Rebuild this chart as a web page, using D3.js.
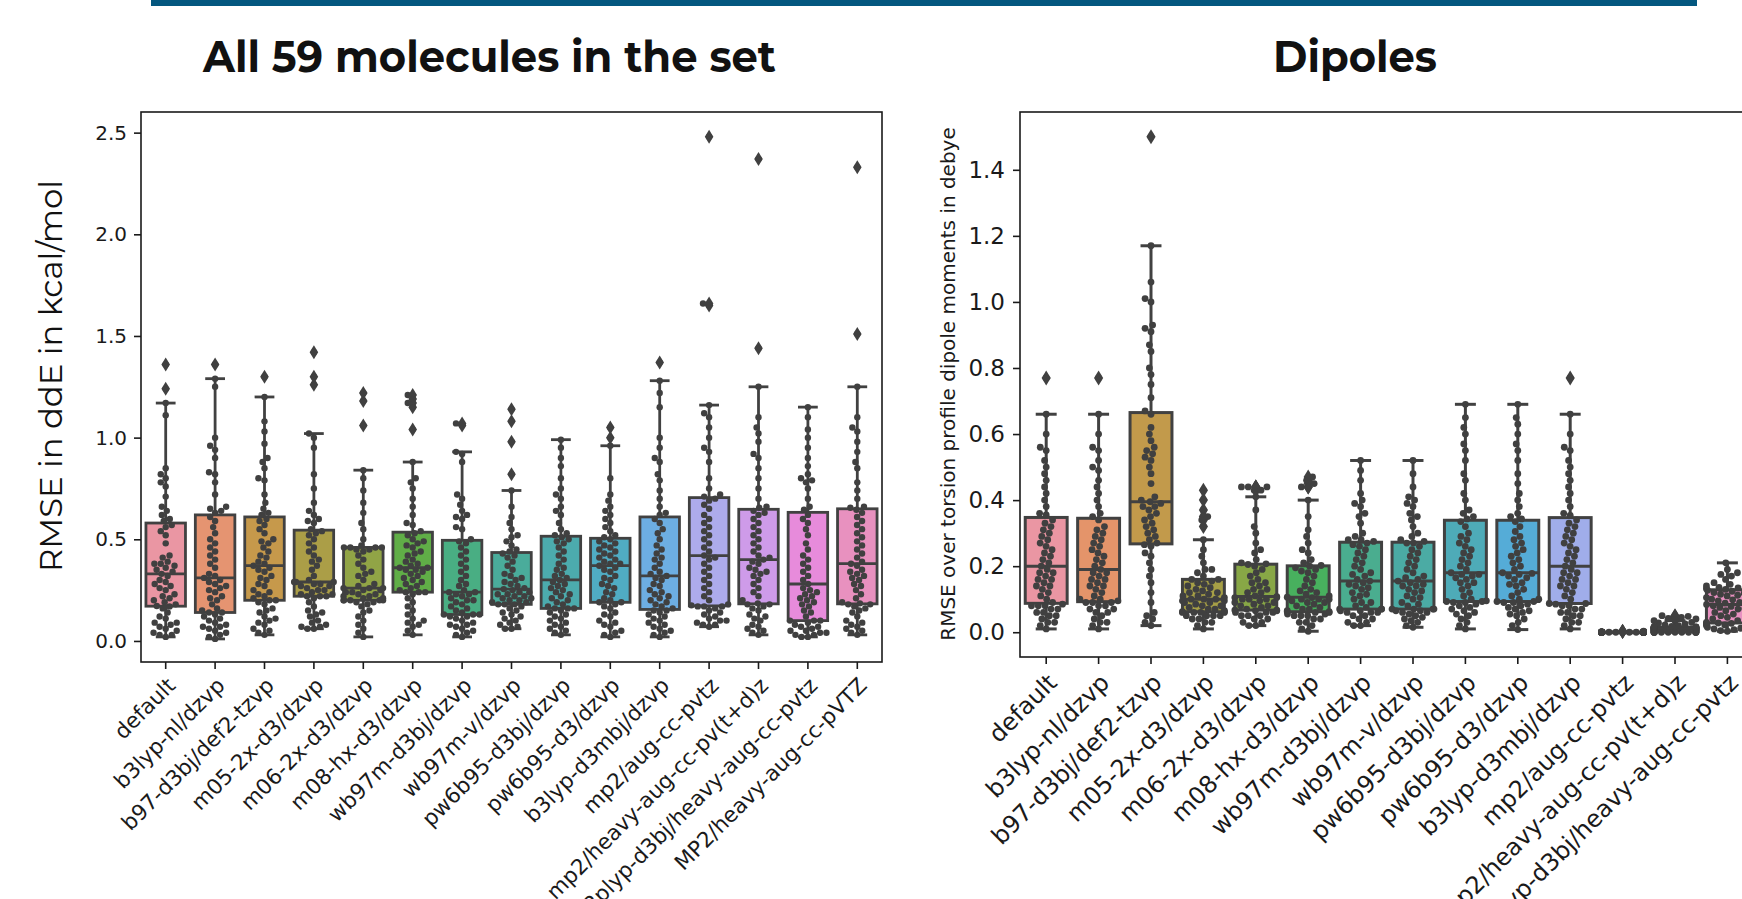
<!DOCTYPE html>
<html>
<head>
<meta charset="utf-8">
<script src="https://cdn.jsdelivr.net/npm/d3@7"></script>
<style>
  body { margin: 0; background: #fff; }
  svg { display: block; }
</style>
</head>
<body>
<div id="vis"></div>
<script>
// method / basis labels on the x axis (right panel only shows the first 14)
const methods = ['default', 'b3lyp-nl/dzvp', 'b97-d3bj/def2-tzvp', 'm05-2x-d3/dzvp', 'm06-2x-d3/dzvp',
  'm08-hx-d3/dzvp', 'wb97m-d3bj/dzvp', 'wb97m-v/dzvp', 'pw6b95-d3bj/dzvp', 'pw6b95-d3/dzvp',
  'b3lyp-d3mbj/dzvp', 'mp2/aug-cc-pvtz', 'mp2/heavy-aug-cc-pv(t+d)z', 'b2plyp-d3bj/heavy-aug-cc-pvtz',
  'MP2/heavy-aug-cc-pVTZ']

const ddeTicks = [0, 0.5, 1.0, 1.5, 2.0, 2.5]
const dipoleTicks = [0, 0.2, 0.4, 0.6, 0.8, 1.0, 1.2, 1.4]

// RMSE in ddE (kcal/mol), 59 molecules per method
const ddeRmse = [
  [0.02,0.03,0.03,0.04,0.05,0.06,0.07,0.08,0.09,0.09,0.11,0.12,0.14,0.16,0.17,0.172,0.18,0.19,0.20,0.21,0.22,0.23,0.25,0.26,0.27,0.28,0.29,0.30,0.32,0.33,0.34,0.35,0.36,0.37,0.38,0.38,0.39,0.41,0.42,0.48,0.52,0.54,0.56,0.57,0.59,0.60,0.62,0.64,0.66,0.71,0.76,0.78,0.80,0.82,0.85,1.11,1.17,1.24,1.36],
  [0.01,0.02,0.03,0.04,0.05,0.06,0.07,0.07,0.08,0.09,0.10,0.11,0.12,0.13,0.14,0.14,0.15,0.16,0.18,0.20,0.21,0.22,0.24,0.25,0.26,0.27,0.28,0.29,0.30,0.31,0.32,0.33,0.36,0.38,0.40,0.42,0.44,0.46,0.48,0.50,0.53,0.56,0.59,0.61,0.63,0.64,0.65,0.66,0.72,0.78,0.82,0.83,0.90,0.94,0.96,1.00,1.25,1.29,1.36],
  [0.03,0.04,0.05,0.06,0.08,0.09,0.10,0.11,0.12,0.14,0.15,0.16,0.18,0.19,0.20,0.20,0.21,0.22,0.23,0.24,0.25,0.27,0.28,0.30,0.31,0.32,0.34,0.35,0.36,0.37,0.38,0.39,0.41,0.42,0.44,0.46,0.48,0.49,0.50,0.53,0.55,0.57,0.59,0.60,0.62,0.63,0.65,0.68,0.72,0.79,0.80,0.85,0.88,0.90,0.97,1.03,1.08,1.20,1.30],
  [0.06,0.06,0.07,0.07,0.08,0.09,0.10,0.12,0.13,0.14,0.15,0.17,0.19,0.21,0.22,0.22,0.22,0.23,0.23,0.24,0.25,0.25,0.26,0.27,0.27,0.28,0.28,0.29,0.29,0.29,0.30,0.32,0.35,0.37,0.39,0.40,0.42,0.44,0.46,0.48,0.50,0.52,0.53,0.54,0.55,0.58,0.59,0.60,0.62,0.64,0.68,0.75,0.82,0.95,1.00,1.02,1.26,1.30,1.42],
  [0.02,0.04,0.06,0.08,0.10,0.12,0.14,0.15,0.17,0.18,0.19,0.19,0.20,0.20,0.20,0.20,0.20,0.21,0.21,0.22,0.22,0.23,0.23,0.24,0.24,0.25,0.25,0.26,0.26,0.26,0.27,0.28,0.30,0.32,0.33,0.34,0.36,0.38,0.40,0.42,0.44,0.45,0.45,0.46,0.46,0.46,0.46,0.47,0.50,0.55,0.58,0.63,0.68,0.74,0.80,0.84,1.06,1.18,1.22],
  [0.03,0.05,0.07,0.08,0.09,0.10,0.11,0.13,0.15,0.17,0.19,0.21,0.23,0.24,0.24,0.24,0.25,0.26,0.27,0.28,0.29,0.30,0.31,0.32,0.33,0.34,0.35,0.35,0.36,0.36,0.37,0.38,0.39,0.40,0.42,0.43,0.44,0.46,0.47,0.48,0.49,0.50,0.52,0.53,0.54,0.57,0.58,0.62,0.66,0.70,0.75,0.78,0.80,0.88,1.04,1.15,1.17,1.19,1.21],
  [0.02,0.03,0.04,0.05,0.06,0.07,0.08,0.08,0.09,0.10,0.11,0.12,0.12,0.13,0.13,0.13,0.14,0.15,0.16,0.17,0.18,0.19,0.20,0.20,0.21,0.22,0.23,0.23,0.24,0.24,0.25,0.27,0.28,0.30,0.32,0.34,0.36,0.38,0.40,0.42,0.44,0.46,0.48,0.49,0.50,0.55,0.56,0.60,0.61,0.62,0.64,0.67,0.70,0.72,0.88,0.92,0.93,1.06,1.07],
  [0.06,0.06,0.07,0.08,0.09,0.10,0.11,0.12,0.13,0.14,0.15,0.16,0.17,0.18,0.18,0.18,0.19,0.19,0.20,0.20,0.21,0.21,0.22,0.22,0.23,0.23,0.24,0.24,0.25,0.255,0.26,0.27,0.28,0.29,0.30,0.31,0.32,0.33,0.35,0.37,0.39,0.41,0.42,0.43,0.44,0.45,0.47,0.49,0.51,0.52,0.55,0.58,0.61,0.66,0.74,0.82,0.98,1.08,1.14],
  [0.03,0.04,0.05,0.06,0.07,0.08,0.09,0.10,0.11,0.12,0.13,0.14,0.15,0.16,0.16,0.16,0.17,0.18,0.19,0.20,0.21,0.22,0.23,0.24,0.25,0.26,0.27,0.28,0.29,0.30,0.31,0.32,0.33,0.35,0.36,0.38,0.40,0.42,0.44,0.46,0.48,0.49,0.50,0.51,0.52,0.53,0.55,0.58,0.62,0.64,0.66,0.70,0.72,0.75,0.80,0.86,0.90,0.95,0.99],
  [0.02,0.03,0.04,0.05,0.07,0.08,0.09,0.10,0.12,0.13,0.14,0.16,0.17,0.18,0.19,0.19,0.20,0.21,0.23,0.24,0.26,0.27,0.28,0.30,0.31,0.32,0.34,0.35,0.36,0.37,0.38,0.38,0.39,0.40,0.41,0.42,0.43,0.44,0.45,0.46,0.47,0.48,0.49,0.50,0.51,0.52,0.54,0.56,0.58,0.60,0.62,0.64,0.66,0.69,0.72,0.80,0.96,1.00,1.05],
  [0.02,0.03,0.04,0.05,0.06,0.07,0.08,0.09,0.10,0.11,0.12,0.13,0.14,0.15,0.15,0.16,0.17,0.18,0.19,0.20,0.21,0.22,0.23,0.24,0.25,0.27,0.28,0.30,0.31,0.32,0.33,0.34,0.36,0.38,0.40,0.41,0.43,0.45,0.47,0.50,0.53,0.55,0.58,0.60,0.62,0.63,0.66,0.70,0.74,0.79,0.82,0.88,0.90,0.95,1.00,1.15,1.22,1.28,1.37],
  [0.07,0.08,0.08,0.09,0.10,0.10,0.11,0.12,0.13,0.14,0.15,0.16,0.17,0.17,0.17,0.175,0.18,0.20,0.22,0.24,0.26,0.28,0.30,0.32,0.34,0.36,0.38,0.40,0.41,0.42,0.44,0.46,0.48,0.50,0.52,0.54,0.56,0.58,0.60,0.62,0.65,0.67,0.69,0.70,0.71,0.72,0.75,0.80,0.88,0.93,0.95,1.00,1.05,1.10,1.12,1.16,1.65,1.66,2.48],
  [0.03,0.04,0.05,0.06,0.07,0.08,0.10,0.11,0.12,0.13,0.15,0.16,0.17,0.18,0.18,0.185,0.20,0.22,0.24,0.26,0.28,0.30,0.32,0.33,0.34,0.35,0.36,0.38,0.39,0.40,0.41,0.42,0.44,0.46,0.48,0.50,0.52,0.54,0.56,0.58,0.60,0.62,0.63,0.64,0.655,0.66,0.70,0.75,0.80,0.85,0.90,0.92,0.98,1.02,1.05,1.10,1.25,1.44,2.37],
  [0.02,0.02,0.03,0.03,0.04,0.04,0.05,0.05,0.06,0.07,0.07,0.08,0.09,0.10,0.10,0.10,0.12,0.14,0.15,0.17,0.18,0.19,0.20,0.21,0.22,0.23,0.24,0.25,0.26,0.28,0.30,0.32,0.34,0.36,0.38,0.40,0.42,0.45,0.48,0.52,0.55,0.58,0.60,0.62,0.645,0.66,0.70,0.75,0.78,0.79,0.80,0.82,0.86,0.90,0.95,1.00,1.04,1.10,1.15],
  [0.03,0.04,0.05,0.06,0.07,0.08,0.09,0.10,0.12,0.14,0.15,0.16,0.17,0.18,0.18,0.185,0.19,0.21,0.23,0.25,0.27,0.28,0.30,0.31,0.32,0.33,0.34,0.35,0.37,0.38,0.39,0.41,0.43,0.45,0.47,0.49,0.51,0.53,0.55,0.57,0.59,0.61,0.63,0.645,0.655,0.66,0.70,0.74,0.78,0.85,0.88,0.93,0.98,1.03,1.05,1.10,1.25,1.51,2.33]
]

// RMSE of torsion profile dipole moments (debye), 14 methods
const dipoleRmse = [
  [0.01,0.02,0.03,0.03,0.04,0.05,0.05,0.06,0.06,0.07,0.07,0.08,0.08,0.08,0.085,0.09,0.10,0.11,0.12,0.13,0.14,0.14,0.15,0.16,0.16,0.17,0.18,0.18,0.19,0.20,0.21,0.22,0.23,0.24,0.25,0.26,0.27,0.28,0.29,0.30,0.31,0.32,0.33,0.34,0.355,0.36,0.38,0.40,0.42,0.44,0.46,0.48,0.50,0.52,0.55,0.56,0.60,0.66,0.77],
  [0.01,0.02,0.03,0.03,0.04,0.05,0.06,0.06,0.07,0.07,0.08,0.08,0.09,0.09,0.09,0.095,0.10,0.10,0.11,0.12,0.13,0.14,0.14,0.15,0.16,0.16,0.17,0.18,0.18,0.19,0.20,0.21,0.22,0.23,0.24,0.25,0.26,0.27,0.28,0.29,0.30,0.31,0.32,0.34,0.35,0.36,0.38,0.40,0.42,0.44,0.46,0.49,0.50,0.52,0.55,0.56,0.60,0.66,0.77],
  [0.02,0.03,0.04,0.05,0.06,0.09,0.12,0.15,0.17,0.19,0.21,0.23,0.24,0.26,0.265,0.27,0.28,0.29,0.30,0.31,0.32,0.33,0.34,0.35,0.36,0.37,0.38,0.38,0.39,0.395,0.40,0.41,0.45,0.48,0.50,0.52,0.53,0.54,0.55,0.56,0.58,0.60,0.62,0.66,0.67,0.71,0.75,0.78,0.80,0.85,0.87,0.91,0.92,0.93,1.00,1.01,1.06,1.17,1.50],
  [0.01,0.02,0.03,0.03,0.04,0.04,0.05,0.05,0.05,0.05,0.06,0.06,0.06,0.06,0.062,0.062,0.065,0.07,0.07,0.075,0.08,0.08,0.085,0.09,0.09,0.095,0.095,0.10,0.10,0.10,0.105,0.11,0.11,0.115,0.12,0.12,0.125,0.13,0.135,0.14,0.145,0.15,0.155,0.16,0.16,0.17,0.18,0.19,0.19,0.21,0.23,0.25,0.28,0.32,0.34,0.35,0.37,0.40,0.43],
  [0.02,0.02,0.03,0.03,0.04,0.04,0.05,0.05,0.05,0.06,0.06,0.06,0.065,0.065,0.067,0.067,0.07,0.075,0.08,0.08,0.085,0.09,0.09,0.095,0.10,0.10,0.10,0.105,0.105,0.108,0.11,0.12,0.12,0.13,0.13,0.14,0.15,0.15,0.16,0.17,0.18,0.19,0.20,0.205,0.207,0.21,0.22,0.24,0.25,0.27,0.30,0.32,0.37,0.41,0.43,0.43,0.44,0.44,0.44],
  [0.003,0.01,0.02,0.03,0.03,0.04,0.04,0.05,0.05,0.05,0.055,0.055,0.06,0.06,0.062,0.062,0.065,0.07,0.07,0.075,0.08,0.085,0.09,0.09,0.095,0.10,0.10,0.10,0.105,0.106,0.11,0.115,0.12,0.125,0.13,0.14,0.15,0.16,0.17,0.18,0.185,0.19,0.195,0.20,0.202,0.21,0.22,0.24,0.25,0.27,0.29,0.31,0.35,0.40,0.44,0.44,0.45,0.46,0.47],
  [0.02,0.02,0.03,0.03,0.04,0.04,0.05,0.05,0.06,0.06,0.06,0.065,0.065,0.07,0.07,0.07,0.075,0.08,0.09,0.09,0.10,0.11,0.115,0.12,0.13,0.135,0.14,0.145,0.15,0.155,0.16,0.17,0.175,0.18,0.19,0.20,0.21,0.22,0.23,0.24,0.25,0.26,0.265,0.27,0.275,0.28,0.28,0.29,0.30,0.33,0.35,0.36,0.38,0.39,0.40,0.42,0.46,0.49,0.52],
  [0.015,0.02,0.03,0.035,0.04,0.045,0.05,0.055,0.06,0.06,0.065,0.065,0.07,0.07,0.07,0.07,0.08,0.085,0.09,0.10,0.105,0.11,0.12,0.125,0.13,0.14,0.14,0.145,0.15,0.155,0.16,0.165,0.17,0.18,0.19,0.20,0.21,0.22,0.23,0.24,0.25,0.26,0.27,0.27,0.275,0.28,0.29,0.30,0.32,0.34,0.35,0.36,0.38,0.39,0.40,0.41,0.44,0.48,0.52],
  [0.01,0.02,0.03,0.04,0.05,0.055,0.06,0.065,0.07,0.075,0.08,0.085,0.09,0.09,0.093,0.093,0.095,0.10,0.11,0.12,0.13,0.14,0.15,0.15,0.16,0.165,0.17,0.175,0.175,0.18,0.19,0.20,0.21,0.22,0.23,0.24,0.25,0.26,0.27,0.28,0.29,0.30,0.32,0.335,0.343,0.35,0.36,0.37,0.40,0.42,0.46,0.48,0.52,0.55,0.57,0.60,0.62,0.65,0.69],
  [0.008,0.02,0.03,0.04,0.05,0.055,0.06,0.065,0.07,0.075,0.08,0.085,0.09,0.09,0.093,0.093,0.10,0.10,0.11,0.12,0.13,0.14,0.145,0.15,0.16,0.165,0.17,0.175,0.178,0.18,0.19,0.20,0.21,0.22,0.23,0.24,0.25,0.26,0.27,0.28,0.29,0.305,0.32,0.335,0.343,0.35,0.36,0.38,0.40,0.42,0.45,0.48,0.52,0.55,0.57,0.60,0.63,0.65,0.69],
  [0.01,0.02,0.03,0.03,0.04,0.05,0.05,0.06,0.06,0.07,0.07,0.08,0.08,0.085,0.087,0.087,0.10,0.11,0.12,0.13,0.14,0.14,0.15,0.16,0.16,0.17,0.18,0.18,0.19,0.20,0.21,0.22,0.23,0.24,0.25,0.26,0.27,0.28,0.29,0.30,0.31,0.32,0.33,0.34,0.354,0.36,0.38,0.40,0.42,0.44,0.46,0.48,0.50,0.52,0.55,0.56,0.60,0.66,0.77],
  [0,0,0,0,0,0,0,0,0,0,0,0,0,0,0,0,0,0,0,0,0,0,0,0,0,0,0,0,0,0,0,0,0,0,0,0,0,0,0,0,0,0,0,0,0,0,0,0,0,0,0,0,0,0,0,0,0.002,0.002,0.003],
  [0,0,0,0,0,0,0,0,0,0,0,0,0,0,0.002,0.002,0.003,0.004,0.005,0.005,0.006,0.006,0.007,0.007,0.008,0.008,0.009,0.009,0.01,0.01,0.01,0.011,0.011,0.012,0.012,0.013,0.013,0.014,0.014,0.014,0.015,0.015,0.015,0.015,0.016,0.016,0.018,0.02,0.022,0.025,0.028,0.03,0.035,0.038,0.04,0.042,0.045,0.048,0.05],
  [0.003,0.005,0.008,0.01,0.012,0.015,0.017,0.019,0.02,0.022,0.024,0.025,0.026,0.027,0.028,0.028,0.03,0.035,0.04,0.045,0.05,0.055,0.06,0.065,0.07,0.072,0.075,0.078,0.08,0.084,0.088,0.09,0.092,0.095,0.098,0.10,0.105,0.11,0.112,0.115,0.118,0.12,0.124,0.127,0.13,0.13,0.132,0.134,0.136,0.138,0.14,0.145,0.15,0.16,0.17,0.175,0.18,0.19,0.21]
]

// seaborn-style husl palette (l=.7), then desaturated for patches
const HM = [[3.2406, -1.5372, -0.4986], [-0.9689, 1.8758, 0.0415], [0.0557, -0.2040, 1.0570]]
function maxChroma(L, H){
  const hr = H * Math.PI / 180, sinH = Math.sin(hr), cosH = Math.cos(hr)
  const sub1 = Math.pow(L + 16, 3) / 1560896
  const sub2 = sub1 > 0.008856 ? sub1 : L / 903.3
  let res = Infinity
  for (const [m1, m2, m3] of HM){
    const top = (0.99915 * m1 + 1.05122 * m2 + 1.14460 * m3) * sub2
    const rb = 0.86330 * m3 - 0.17266 * m2
    const lb = 0.12949 * m3 - 0.38848 * m1
    const bottom = (rb * sinH + lb * cosH) * sub2
    for (const t of [0, 1]){
      const C = L * (top - 1.05122 * t) / (bottom + 0.17266 * sinH * t)
      if (C > 0 && C < res) res = C
    }
  }
  return res
}
function huslToRgb(H, S, L){
  const C = maxChroma(L, H) / 100 * S
  const hr = H * Math.PI / 180
  const U = Math.cos(hr) * C, V = Math.sin(hr) * C
  const t = (L + 16) / 116
  const Y = Math.pow(t, 3) > 0.008856 ? Math.pow(t, 3) : (116 * t - 16) / 903.3
  const vU = U / (13 * L) + 0.19784, vV = V / (13 * L) + 0.46834
  const X = -(9 * Y * vU) / ((vU - 4) * vV - vU * vV)
  const Z = (9 * Y - 15 * vV * Y - vV * X) / (3 * vV)
  return HM.map(([a, b, c]) => {
    const lin = a * X + b * Y + c * Z
    const g = lin <= 0.0031308 ? 12.92 * lin : 1.055 * Math.pow(lin, 1 / 2.4) - 0.055
    return Math.max(0, Math.min(1, g))
  })
}
function palette(n){
  return d3.range(n).map(i => {
    const h = ((i / n + 0.01) % 1) * 359
    const [r, g, b] = huslToRgb(h, 0.9 * 99, 0.7 * 99)
    const c = d3.hsl(d3.rgb(r * 255, g * 255, b * 255))
    c.s *= 0.75
    return c
  })
}

// seaborn swarm: place points bottom-up as close to the centre as possible
function swarm(ys, r, half){
  const d = 2 * r
  const pts = ys.map(y => ({y, x: 0})).sort((a, b) => b.y - a.y)
  const placed = []
  for (const p of pts){
    const near = placed.filter(q => Math.abs(q.y - p.y) < d)
    const cands = [0]
    near.forEach(q => {
      const dx = Math.sqrt(d * d - (q.y - p.y) ** 2)
      cands.push(q.x - dx, q.x + dx)
    })
    cands.sort((a, b) => Math.abs(a) - Math.abs(b))
    for (const c of cands){
      if (near.every(q => (q.x - c) ** 2 + (q.y - p.y) ** 2 >= d * d - 0.01)){ p.x = c; break }
    }
    placed.push(p)
  }
  pts.forEach(p => { p.x = Math.max(-half, Math.min(half, p.x)) })
  return pts
}

function boxStats(vals){
  const s = vals.slice().sort(d3.ascending)
  const q1 = d3.quantile(s, 0.25), med = d3.quantile(s, 0.5), q3 = d3.quantile(s, 0.75)
  const iqr = q3 - q1
  const inside = s.filter(v => v >= q1 - 1.5 * iqr && v <= q3 + 1.5 * iqr)
  return {q1, med, q3, lo: d3.min(inside), hi: d3.max(inside),
    fliers: s.filter(v => v < q1 - 1.5 * iqr || v > q3 + 1.5 * iqr)}
}

const svg = d3.select('#vis').append('svg')
  .attr('width', 1742).attr('height', 899)
  .style('font-family', 'DejaVu Sans, sans-serif')

svg.append('rect').attr('x', 151).attr('y', 0).attr('width', 1546).attr('height', 6).attr('fill', '#04577f')

function drawPanel(p){
  const n = p.values.length
  const x = d3.scaleBand().domain(d3.range(n)).range([p.x0, p.x1])
  const y = d3.scaleLinear().domain(p.domain).range([p.y1, p.y0])
  const colors = palette(n)
  const gray = d3.gray(d3.min(colors, c => c.l) * 0.6 * 100) + ''
  const bw = x.bandwidth() * 0.8
  const g = svg.append('g')

  // title
  svg.append('text').attr('x', p.titleX).attr('y', 72)
    .attr('textLength', p.titleW).attr('lengthAdjust', 'spacingAndGlyphs')
    .style('font-family', 'Montserrat, Inter, sans-serif').style('font-weight', 700)
    .style('font-size', '43px').attr('fill', '#111').text(p.title)

  p.values.forEach((vals, i) => {
    const s = boxStats(vals)
    const cx = x(i) + x.bandwidth() / 2
    const bg = g.append('g')
    bg.append('line').attr('x1', cx).attr('x2', cx).attr('y1', y(s.q3)).attr('y2', y(s.hi))
    bg.append('line').attr('x1', cx).attr('x2', cx).attr('y1', y(s.q1)).attr('y2', y(s.lo))
    bg.append('line').attr('x1', cx - bw / 4).attr('x2', cx + bw / 4).attr('y1', y(s.hi)).attr('y2', y(s.hi))
    bg.append('line').attr('x1', cx - bw / 4).attr('x2', cx + bw / 4).attr('y1', y(s.lo)).attr('y2', y(s.lo))
    bg.append('rect').attr('x', cx - bw / 2).attr('width', bw)
      .attr('y', y(s.q3)).attr('height', Math.max(0.5, y(s.q1) - y(s.q3)))
      .attr('fill', colors[i])
    bg.append('line').attr('x1', cx - bw / 2).attr('x2', cx + bw / 2).attr('y1', y(s.med)).attr('y2', y(s.med))
    bg.selectAll('line, rect').attr('stroke', gray).attr('stroke-width', p.lw)
    bg.selectAll('path.flier').data(s.fliers).join('path').attr('class', 'flier')
      .attr('d', `M0,${-p.dh}L${p.dw},0L0,${p.dh}L${-p.dw},0Z`)
      .attr('transform', v => `translate(${cx},${y(v)})`)
      .attr('fill', gray)

    const pts = swarm(vals.map(v => y(v)), p.r, bw / 2)
    bg.selectAll('circle').data(pts).join('circle')
      .attr('cx', d => cx + d.x).attr('cy', d => d.y).attr('r', p.r)
      .attr('fill', '#404040')
  })

  // frame
  svg.append('rect').attr('x', p.x0).attr('y', p.y0)
    .attr('width', p.x1 - p.x0).attr('height', p.y1 - p.y0)
    .attr('fill', 'none').attr('stroke', '#1a1a1a').attr('stroke-width', 1.6)

  // y axis
  const ya = svg.append('g').attr('transform', `translate(${p.x0},0)`)
    .call(d3.axisLeft(y).tickValues(p.ticks).tickSize(7).tickPadding(p.pad).tickFormat(d3.format('.1f')))
  ya.select('.domain').remove()
  ya.selectAll('line').attr('stroke', '#1a1a1a').attr('stroke-width', 1.6)
  ya.selectAll('text').style('font-size', p.fs + 'px').style('font-family', 'DejaVu Sans').attr('fill', '#1a1a1a')

  // x axis with rotated labels
  const xa = svg.append('g').attr('transform', `translate(0,${p.y1})`)
    .call(d3.axisBottom(x).tickSize(7).tickFormat(i => methods[i]))
  xa.select('.domain').remove()
  xa.selectAll('line').attr('stroke', '#1a1a1a').attr('stroke-width', 1.6)
  xa.selectAll('text')
    .attr('y', null).attr('dy', '0.72em').attr('text-anchor', 'end')
    .attr('transform', `translate(0,${7 + p.pad}) rotate(-45)`)
    .style('font-size', p.xfs + 'px').style('font-family', 'DejaVu Sans').attr('fill', '#1a1a1a')
}

drawPanel({title: 'All 59 molecules in the set', titleX: 203, titleW: 573,
  values: ddeRmse, x0: 141, x1: 882, y0: 112, y1: 662, domain: [-0.1035, 2.6015],
  ticks: ddeTicks, fs: 20, xfs: 21.5, pad: 7, r: 3.2, lw: 2.8, dh: 7, dw: 4.3})

drawPanel({title: 'Dipoles', titleX: 1273, titleW: 164,
  values: dipoleRmse, x0: 1020, x1: 1753.6, y0: 112, y1: 657, domain: [-0.075, 1.575],
  ticks: dipoleTicks, fs: 23, xfs: 24, pad: 8, r: 3.4, lw: 3, dh: 7.5, dw: 4.6})

// y labels
svg.append('text')
  .attr('transform', 'translate(62,376) rotate(-90)')
  .attr('text-anchor', 'middle')
  .attr('textLength', 392).attr('lengthAdjust', 'spacingAndGlyphs')
  .style('font-family', 'Montserrat, Inter, sans-serif').style('font-size', '31px')
  .attr('fill', '#111').text('RMSE in ddE in kcal/mol')

svg.append('text')
  .attr('transform', 'translate(955,384) rotate(-90)')
  .attr('text-anchor', 'middle')
  .style('font-size', '20px').attr('fill', '#1a1a1a')
  .text('RMSE over torsion profile dipole moments in debye')
</script>
</body>
</html>
